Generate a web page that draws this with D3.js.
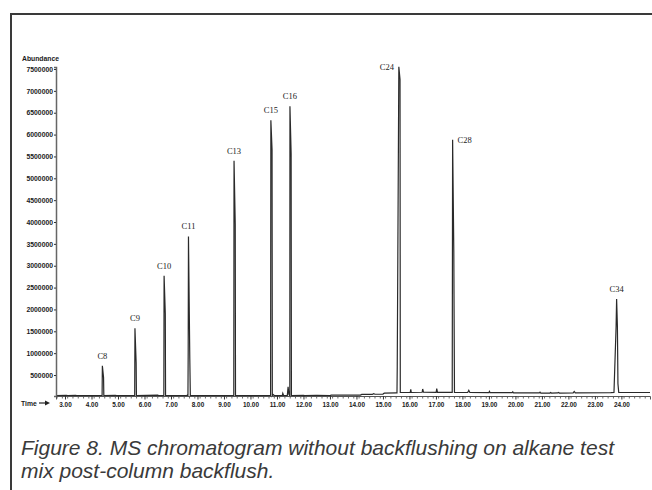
<!DOCTYPE html>
<html><head><meta charset="utf-8">
<script src="https://cdn.jsdelivr.net/npm/d3@7"></script>
<style>html,body{margin:0;padding:0;background:#fff;}svg{display:block;}</style>
</head><body>
<svg id="chart" width="652" height="490"></svg>
<script>
// ---- data ----
const peakNames = ["C8","C9","C10","C11","C13","C15","C16","C24","C28","C34"];
const peakTimes = [4.41, 5.64, 6.74, 7.66, 9.38, 10.77, 11.49, 15.60, 17.63, 23.82];
const peakApex  = [710000, 1570000, 2770000, 3670000, 5400000, 6330000, 6650000, 7550000, 5880000, 2240000];
const yTickValues = [500000,1000000,1500000,2000000,2500000,3000000,3500000,4000000,4500000,5000000,5500000,6000000,6500000,7000000,7500000];
const xTickValues = [3,4,5,6,7,8,9,10,11,12,13,14,15,16,17,18,19,20,21,22,23,24];
// chromatogram trace: [time (min), abundance]
const trace = [
 [2.66,30000],[3.05,36000],[3.1,30000],[3.4,34000],[3.45,30000],
 [4.40,30000],[4.41,710000],[4.455,440000],[4.465,30000],
 [4.9,33000],[4.95,30000],
 [5.63,30000],[5.64,1570000],[5.685,780000],[5.695,30000],
 [6.5,40000],[6.53,30000],
 [6.73,30000],[6.74,2770000],[6.785,1900000],[6.795,30000],
 [7.60,30000],[7.62,45000],[7.64,30000],[7.65,1070000],[7.66,3670000],[7.71,880000],[7.73,30000],
 [9.37,30000],[9.38,5400000],[9.425,3950000],[9.435,30000],
 [10.76,30000],[10.77,6330000],[10.815,5650000],[10.825,30000],[10.85,55000],[10.9,30000],
 [11.2,30000],[11.22,80000],[11.25,30000],
 [11.39,30000],[11.42,230000],[11.45,60000],[11.48,30000],
 [11.485,30000],[11.49,6650000],[11.535,5560000],[11.545,30000],
 [12.0,32000],[12.05,30000],[12.5,33000],[13.0,30000],
 [13.05,40000],[14.15,40000],[14.2,55000],[14.6,55000],[14.65,75000],[14.7,60000],
 [15.0,65000],[15.05,85000],[15.5,90000],[15.53,90000],
 [15.54,690000],[15.60,7550000],[15.645,7260000],[15.655,100000],
 [15.7,100000],[16.03,100000],[16.05,170000],[16.07,100000],
 [16.48,105000],[16.5,180000],[16.53,110000],
 [17.01,105000],[17.03,190000],[17.06,105000],[17.6,105000],
 [17.615,105000],[17.63,5880000],[17.675,3320000],[17.685,2000000],[17.70,100000],
 [18.2,100000],[18.24,150000],[18.28,100000],
 [19.0,95000],[19.02,125000],[19.05,95000],
 [19.88,95000],[19.9,115000],[19.93,92000],
 [20.5,90000],[20.9,90000],[20.93,110000],[20.96,88000],
 [21.3,88000],[21.33,100000],[21.36,88000],
 [21.6,90000],[21.63,100000],[21.66,88000],
 [22.18,90000],[22.22,125000],[22.26,92000],
 [23.6,95000],[23.72,100000],[23.76,850000],[23.8,1600000],[23.82,2240000],[23.85,1600000],[23.87,300000],[23.9,100000],
 [25.08,100000]
];
const captionLines = ["Figure 8. MS chromatogram without backflushing on alkane test","mix post-column backflush."];

// ---- layout ----
const svg = d3.select("#chart");
const x = d3.scaleLinear().domain([2.66, 25.08]).range([56, 650]);
const y = d3.scaleLinear().domain([20000, 7546000]).range([396, 67]);

// outer frame (top + left)
svg.append("path").attr("d","M11,490 L11,14 L652,14")
  .attr("fill","none").attr("stroke","#3a3a3a").attr("stroke-width",2);

// trace
svg.append("path").datum(trace)
  .attr("fill","none").attr("stroke","#2a2a2a").attr("stroke-width",1.2)
  .attr("d", d3.line().x(d=>x(d[0])).y(d=>y(d[1])));

// y axis
const yAxis = svg.append("g").attr("transform","translate(56,0)")
  .call(d3.axisLeft(y).tickValues(yTickValues).tickSize(2).tickPadding(1).tickFormat(d3.format("d")));
yAxis.select(".domain").attr("stroke","#666").attr("stroke-width",1.5);
yAxis.selectAll(".tick line").attr("stroke","#333");
yAxis.selectAll("text").attr("font-family","Liberation Sans, Arial, sans-serif")
  .attr("font-size",6.8).attr("font-weight","bold").attr("fill","#1a1a1a");

// x axis minor ticks
const minor = d3.range(27, 251, 2).map(v=>v/10);
svg.append("g").selectAll("line").data(minor).join("line")
  .attr("x1",d=>x(d)).attr("x2",d=>x(d)).attr("y1",396).attr("y2",398.5)
  .attr("stroke","#444").attr("stroke-width",0.8);
const xAxis = svg.append("g").attr("transform","translate(0,396)")
  .call(d3.axisBottom(x).tickValues(xTickValues).tickSize(3.5).tickPadding(2.5).tickFormat(d3.format(".2f")));
xAxis.select(".domain").attr("stroke","#555").attr("stroke-width",1);
xAxis.selectAll(".tick line").attr("stroke","#333");
xAxis.selectAll("text").attr("font-family","Liberation Sans, Arial, sans-serif")
  .attr("font-size",6.4).attr("font-weight","bold").attr("fill","#1a1a1a");

// axis titles
svg.append("text").attr("x",22).attr("y",60.5).text("Abundance")
  .attr("font-family","Liberation Sans, Arial, sans-serif").attr("font-size",6.8)
  .attr("font-weight","bold").attr("fill","#1a1a1a");
svg.append("text").attr("x",21).attr("y",405.5).text("Time")
  .attr("font-family","Liberation Sans, Arial, sans-serif").attr("font-size",6.8)
  .attr("font-weight","bold").attr("fill","#1a1a1a");
svg.append("line").attr("x1",39).attr("x2",46).attr("y1",403).attr("y2",403)
  .attr("stroke","#222").attr("stroke-width",1.2);
svg.append("path").attr("d","M45,400.5 L50,403 L45,405.5 Z").attr("fill","#222");

// peak labels
const labelOffset = {C24:[-12,3], C28:[12,3]};
peakNames.forEach((n,i)=>{
  const off = labelOffset[n] || [0,-7];
  svg.append("text").attr("x", x(peakTimes[i]) + off[0]).attr("y", y(peakApex[i]) + off[1])
    .attr("text-anchor","middle").text(n)
    .attr("font-family","Liberation Serif, Times New Roman, serif").attr("font-size",8.5).attr("fill","#222");
});

// caption
const cap = svg.append("g");
captionLines.forEach((t,i)=>{
  cap.append("text").attr("x",21).attr("y",455 + i*23).text(t)
    .attr("font-family","Liberation Sans, Arial, sans-serif").attr("font-style","italic")
    .attr("font-size",21).attr("fill","#3a3a3a");
});
</script>
</body></html>
